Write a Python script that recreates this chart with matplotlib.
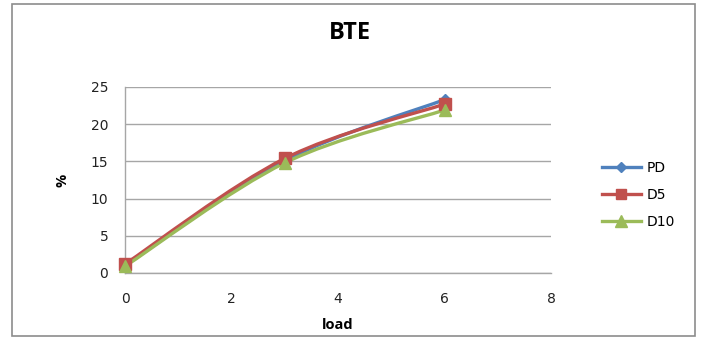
import matplotlib
matplotlib.use("Agg")
import matplotlib.pyplot as plt
from matplotlib.path import Path
from matplotlib.patches import PathPatch, Rectangle
from matplotlib.lines import Line2D

# load steps and brake thermal efficiency (%) per fuel
load = [0, 3, 6]
pd_bte = [1.0, 15.1, 23.3]
d5_bte = [1.2, 15.4, 22.7]
d10_bte = [0.9, 14.8, 21.9]

series = [
    ("PD", pd_bte, "#4F81BD", "D", 6),
    ("D5", d5_bte, "#C0504D", "s", 8),
    ("D10", d10_bte, "#9BBB59", "^", 9),
]


def smooth_path(xs, ys):
    # Catmull-Rom style bezier segments, like a spreadsheet "smoothed line"
    pts = list(zip(xs, ys))
    ext = [pts[0]] + pts + [pts[-1]]
    verts = [pts[0]]
    codes = [Path.MOVETO]
    for i in range(1, len(ext) - 2):
        p0, p1, p2, p3 = ext[i - 1], ext[i], ext[i + 1], ext[i + 2]
        c1 = (p1[0] + (p2[0] - p0[0]) / 6, p1[1] + (p2[1] - p0[1]) / 6)
        c2 = (p2[0] - (p3[0] - p1[0]) / 6, p2[1] - (p3[1] - p1[1]) / 6)
        verts += [c1, c2, p2]
        codes += [Path.CURVE4] * 3
    return Path(verts, codes)


W, H = 701, 338
fig = plt.figure(figsize=(W / 100, H / 100), dpi=100)
fig.patch.set_facecolor("white")

# outer chart frame
fig.patches.append(Rectangle((12 / W, 1 - 336 / H), (695 - 12) / W, (336 - 4) / H,
                             transform=fig.transFigure, fill=False,
                             edgecolor="#8c8c8c", linewidth=1.2))

ax = fig.add_axes([125 / W, (H - 273) / H, (551 - 125) / W, (273 - 87) / H])
ax.set_xlim(0, 8)
ax.set_ylim(0, 25)
ax.set_xticks(range(0, 9, 2))
ax.set_yticks(range(0, 26, 5))
ax.grid(axis="y", color="#a6a6a6", linewidth=1)
ax.set_axisbelow(True)
for side in ["top", "right"]:
    ax.spines[side].set_visible(False)
for side in ["left", "bottom"]:
    ax.spines[side].set_color("#a6a6a6")
    ax.spines[side].set_linewidth(1)
ax.tick_params(length=0, labelsize=10, colors="#222222")
ax.tick_params(axis="y", pad=12)
ax.tick_params(axis="x", pad=14)

handles = []
for name, vals, color, mk, ms in series:
    ax.add_patch(PathPatch(smooth_path(load, vals), facecolor="none",
                           edgecolor=color, linewidth=2.4, zorder=3))
    ax.plot(load, vals, linestyle="none", marker=mk, markersize=ms,
            color=color, clip_on=False, zorder=4)
    handles.append(Line2D([], [], color=color, linewidth=2.4, marker=mk,
                          markersize=ms - 1, label=name))

ax.set_xlabel("load", fontsize=10.5, fontweight="bold", family="Open Sans", labelpad=8)
ax.set_ylabel("%", fontsize=10.5, fontweight="bold", family="Open Sans", labelpad=15)

fig.text(350 / W, 1 - 33 / H, "BTE", ha="center", va="center",
         fontsize=17, fontweight="bold", family="Open Sans")

fig.legend(handles=handles, loc="center left", bbox_to_anchor=(602 / W, 1 - 195 / H),
           frameon=False, fontsize=10, handlelength=2.8, handletextpad=0.4,
           labelspacing=0.95, borderpad=0, borderaxespad=0)

fig.savefig("out.png", dpi=100)
